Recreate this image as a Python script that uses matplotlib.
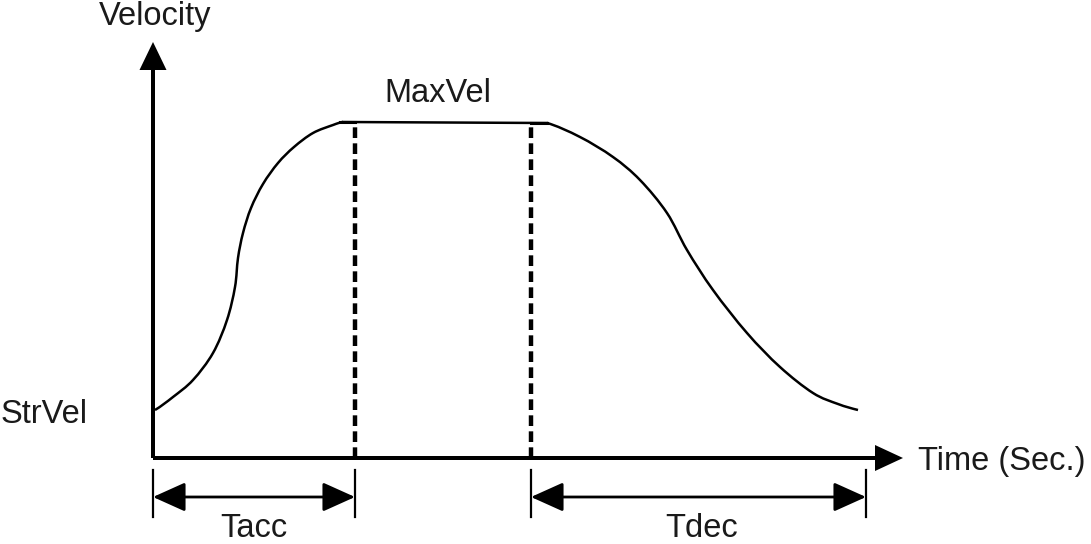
import matplotlib.pyplot as plt
from matplotlib.path import Path
from matplotlib.patches import PathPatch

plt.rcParams['font.family'] = ['Liberation Sans', 'DejaVu Sans']

# velocity profile (time units ~ px from origin)
acc_t = [2, 20, 40, 60, 74, 82, 85, 90, 98, 110, 125, 141, 160, 180, 190]
acc_v = [48, 61, 78, 105, 138, 171, 200, 225, 250, 274, 295, 311, 325, 333, 336]
cruise_t = [190, 394]
cruise_v = [336, 335]
dec_t = [394, 427, 460, 487, 514, 534, 560, 594, 627, 660, 685, 705]
dec_v = [335, 321, 301, 278, 245, 208, 168, 125, 91, 65, 54, 48]

t_acc = 202       # end of acceleration
t_dec = 378       # start of deceleration
t_stop = 713      # end of deceleration
v_max = 336

ink = '#1a1a1a'
fs = 23.5


def smooth_path(xs, ys, start_ghost, end_ghost):
    # Catmull-Rom through the read points, drawn as cubic beziers
    pts = [start_ghost] + list(zip(xs, ys)) + [end_ghost]
    verts = [pts[1]]
    codes = [Path.MOVETO]
    for i in range(1, len(pts) - 2):
        p0, p1, p2, p3 = pts[i - 1], pts[i], pts[i + 1], pts[i + 2]
        c1 = (p1[0] + (p2[0] - p0[0]) / 6, p1[1] + (p2[1] - p0[1]) / 6)
        c2 = (p2[0] - (p3[0] - p1[0]) / 6, p2[1] - (p3[1] - p1[1]) / 6)
        verts += [c1, c2, p2]
        codes += [Path.CURVE4] * 3
    return Path(verts, codes)


fig = plt.figure(figsize=(10.91, 5.44), dpi=100)
ax = fig.add_axes([0, 0, 1, 1])
ax.set_xlim(-153, 938)
ax.set_ylim(-86, 458)
ax.axis('off')

# axes with arrows
ax.arrow(0, 0, 0, 416, width=4, head_width=27, head_length=28,
         length_includes_head=True, color='black', lw=0)
ax.arrow(0, 0, 750, 0, width=4, head_width=26, head_length=28,
         length_includes_head=True, color='black', lw=0)

# curve
acc_path = smooth_path(acc_t, acc_v, (acc_t[0] - 20, acc_v[0] - 10),
                       (acc_t[-1] + 12, acc_v[-1]))
dec_path = smooth_path(dec_t, dec_v, (dec_t[0] - 20, dec_v[0]),
                       (dec_t[-1] + 20, dec_v[-1] - 4))
for p in (acc_path, dec_path):
    ax.add_patch(PathPatch(p, fill=False, edgecolor='black', lw=1.8))
ax.plot(cruise_t, cruise_v, color='black', lw=1.8)

# dashed markers
for t in (t_acc, t_dec):
    ax.plot([t, t], [0, v_max], color='black', lw=3.2,
            dashes=(2.4, 1.2), solid_capstyle='butt')
ax.plot([t_acc - 15, t_acc], [v_max, v_max], color='black', lw=2.2)
ax.plot([t_dec, t_dec + 16], [v_max - 1, v_max - 1], color='black', lw=2.2)

# dimension arrows
for a, b in ((0, t_acc), (t_dec, t_stop)):
    for t in (a, b):
        ax.plot([t, t], [-12, -59], color='black', lw=1.6)
    ax.annotate('', xy=(b, -39), xytext=(a, -39),
                arrowprops=dict(arrowstyle='<|-|>,head_length=1.0,head_width=0.45',
                                mutation_scale=20, lw=2, color='black',
                                shrinkA=0, shrinkB=0))

ax.text(2, 433, 'Velocity', fontsize=fs, color=ink, ha='center', va='baseline')
ax.text(285, 356, 'MaxVel', fontsize=fs, color=ink, ha='center', va='baseline')
ax.text(-152, 35, 'StrVel', fontsize=fs, color=ink, ha='left', va='baseline')
ax.text(765, -12, 'Time (Sec.)', fontsize=fs, color=ink, ha='left', va='baseline')
ax.text(t_acc / 2, -79, 'Tacc', fontsize=fs, color=ink, ha='center', va='baseline')
ax.text(549, -79, 'Tdec', fontsize=fs, color=ink, ha='center', va='baseline')

fig.savefig('out.png', dpi=100)
